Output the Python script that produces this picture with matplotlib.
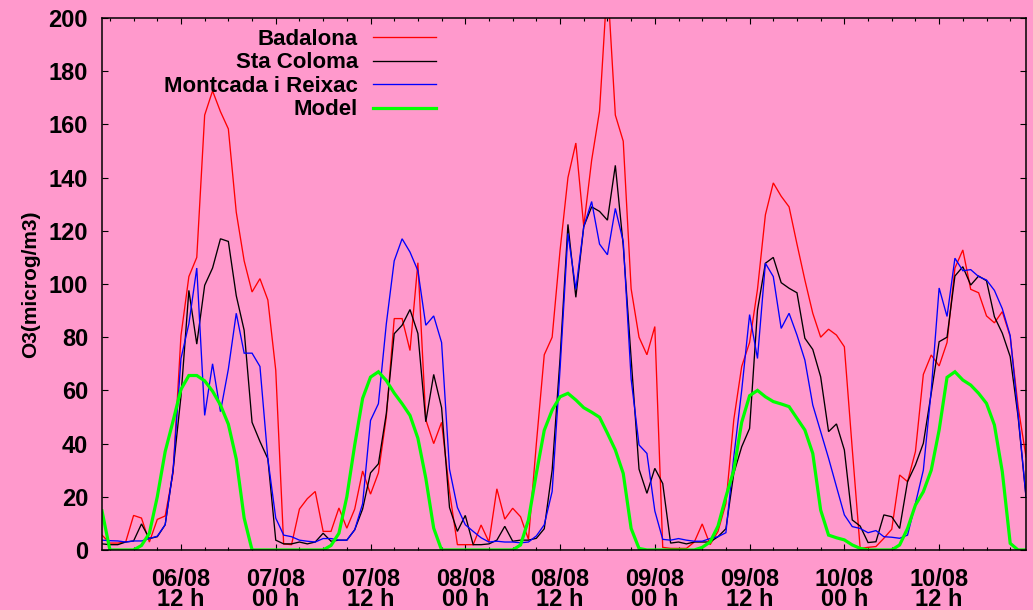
import matplotlib
matplotlib.use('Agg')
import matplotlib.pyplot as plt
from matplotlib.lines import Line2D
from matplotlib.ticker import MultipleLocator, FixedLocator

# hours since 06/08 00 h (hourly observations)
hours = list(range(2, 120))

badalona = [5.6, 2.6, 2.6, 3, 13, 12, 3, 11.5, 12.8, 29,
            80.6, 102.8, 110, 163.5, 172.6, 164.8, 158.3, 127, 108.7, 97,
            102, 94, 67.6, 2.3, 2, 15.4, 19.3, 22, 7, 7,
            15.8, 8.2, 15.4, 29.7, 21, 29, 50, 87, 87, 75,
            108, 49, 40, 48, 22, 2, 2, 2, 9.4, 3,
            23, 11.6, 15.7, 12.5, 4, 40, 73.4, 80, 112.6, 140,
            153, 121.7, 146.5, 165, 214, 163.5, 153.7, 98.2, 80, 73.4,
            84, 1, 0.6, 0.6, 0.6, 3, 9.8, 2, 7, 17.5,
            49, 69, 78, 98, 126, 138, 133, 129, 115, 101.5,
            89, 80, 83, 80.8, 76.4, 38, 0.6, 1, 1.3, 4.4,
            7.8, 28.2, 25.7, 37, 66, 73.3, 69.2, 78, 106, 112.8,
            98, 96.7, 88, 85.4, 89.6, 80.2, 53.9, 35]

sta_coloma = [2.3, 2, 2, 3, 3.4, 9.8, 4.3, 5, 9.5, 30,
              57.8, 97.6, 77.4, 99.5, 106, 117, 116, 95.6, 82.6, 48,
              40.8, 34.3, 3.7, 2.3, 2.3, 3, 2.3, 3, 6.3, 3.3,
              3.7, 3.7, 7.6, 15.4, 29, 32.4, 51.3, 81.3, 84.5, 90.4,
              81.4, 48.2, 66, 53.5, 16, 7, 13, 2, 2, 2.3,
              3.7, 8.9, 3.3, 3.7, 3.7, 4.4, 8, 30, 72, 122.4,
              95, 121.6, 129, 127.3, 124, 144.6, 114.5, 72, 30.4, 21.3,
              30.7, 25, 2.6, 3, 2.3, 3, 3, 3, 5, 8,
              28.8, 38.8, 45.7, 90.2, 107.8, 110, 100.5, 98.4, 96.7, 79.6,
              75.4, 65.1, 44.5, 47.4, 37.6, 11.3, 9, 2.8, 3.1, 13.2,
              12.5, 8.1, 25.7, 32, 40.1, 58.9, 78.3, 80, 103, 106.5,
              99.6, 103, 101.2, 87.7, 81.5, 72.7, 50.1, 20]

montcada = [3.7, 3.5, 3.4, 3, 3.4, 3.4, 4.3, 5.2, 9.5, 30,
            72, 85, 106, 50.6, 70, 52, 68, 89, 74, 74,
            69, 34.3, 12, 5.6, 5, 3.7, 3.3, 3, 4.3, 4.3,
            3.7, 3.7, 7.6, 17.4, 48.7, 55, 85, 108.7, 117, 112,
            105, 84.5, 88, 78, 30.4, 16, 9.5, 7, 4.6, 3,
            3.3, 3, 3, 2.7, 3, 5.3, 9.5, 22, 68, 119,
            98, 121.5, 131, 115, 111, 128.4, 116, 64.3, 39.5, 36.3,
            14.7, 4, 3.7, 4.3, 3.7, 3.3, 3.3, 4.3, 5, 6.5,
            35, 60, 88.5, 72, 107.8, 102.8, 83.3, 89, 80.8, 71.4,
            54.5, 44.5, 34.5, 23.8, 13.2, 8.8, 8.1, 6.5, 7.3, 5,
            4.8, 4.4, 5.6, 17.5, 30, 60, 98.5, 87.8, 109.7, 105,
            105.4, 102.8, 101.5, 97.6, 90.7, 80.6, 51, 20]

model = [14.7, 0, 0, 0, 0, 1.7, 6.3, 20, 37, 48.5,
         60.4, 65.6, 65.6, 63.6, 59.7, 54.5, 47.3, 34.2, 12, 0,
         0, 0, 0, 0, 0, 0, 0, 0, 0, 1.7,
         6.3, 20, 39.5, 57, 65, 67, 63.7, 59, 55, 50.6,
         42, 27, 8.2, 0, 0, 0, 0, 0, 0, 0,
         0, 0, 0, 1.9, 11.3, 28.8, 45, 52.6, 57.6, 58.9,
         56.4, 53.5, 51.8, 49.9, 43.9, 37.6, 28.8, 8.1, 0.6, 0,
         0, 0, 0, 0, 0, 0, 1, 3, 9, 20,
         30, 48, 58, 60, 57.6, 55.8, 54.9, 53.9, 49.5, 45.1,
         36.3, 15, 5.6, 4.6, 3.8, 1.9, 0.6, 0, 0, 0,
         0, 1.9, 8.1, 16.9, 21.9, 30, 45.1, 64.9, 67, 63.9,
         62, 58.9, 55.1, 47, 29.4, 2.5, 0, 0]

tick_hours = [12, 24, 36, 48, 60, 72, 84, 96, 108]
tick_labels = ['06/08\n12 h', '07/08\n00 h', '07/08\n12 h', '08/08\n00 h', '08/08\n12 h',
               '09/08\n00 h', '09/08\n12 h', '10/08\n00 h', '10/08\n12 h']

series_names = ['Badalona', 'Sta Coloma', 'Montcada i Reixac', 'Model']
series_colors = ['#ff0000', '#000000', '#0000ff', '#00ff00']
series_widths = [0.95, 0.95, 0.95, 2.3]

plt.rcParams['font.family'] = ['Liberation Sans', 'DejaVu Sans']

bg = '#ff99cc'
fig = plt.figure(figsize=(10.33, 6.10), dpi=100)
fig.patch.set_facecolor(bg)
ax = fig.add_axes([102 / 1033, 60 / 610, 924 / 1033, 532 / 610])
ax.set_facecolor(bg)

for data, c, w in zip([badalona, sta_coloma, montcada, model], series_colors, series_widths):
    ax.plot(hours, data, color=c, lw=w, solid_joinstyle='miter')

ax.set_xlim(2, 119)
ax.set_ylim(0, 200)

ax.xaxis.set_major_locator(FixedLocator(tick_hours))
ax.set_xticklabels(tick_labels)
ax.xaxis.set_minor_locator(MultipleLocator(3))
ax.yaxis.set_major_locator(MultipleLocator(20))

ax.tick_params(which='both', direction='in', top=True, right=True, width=0.8, colors='black')
ax.tick_params(which='major', length=4.5)
ax.tick_params(which='minor', length=2.3)
ax.tick_params(axis='x', which='major', pad=13, labelsize=17)
ax.tick_params(axis='y', which='major', pad=10, labelsize=17)
for lbl in ax.get_xticklabels():
    lbl.set_fontweight('bold')
    lbl.set_linespacing(0.85)
for lbl in ax.get_yticklabels():
    lbl.set_fontweight('bold')

for s in ax.spines.values():
    s.set_linewidth(1.1)

ax.set_ylabel('O3(microg/m3)', fontsize=15, fontweight='bold', labelpad=6)

# legend (gnuplot style: right-aligned text, sample line to the right)
y0 = 0.9643
dy = 0.0442
for i, (name, c, w) in enumerate(zip(series_names, series_colors, series_widths)):
    y = y0 - i * dy
    ax.text(0.277, y - 0.004, name, transform=ax.transAxes, ha='right', va='center',
            fontsize=16, fontweight='bold')
    ax.add_line(Line2D([0.2933, 0.3615], [y, y], transform=ax.transAxes, color=c, lw=w))

fig.savefig('out.png', dpi=100, facecolor=bg)
